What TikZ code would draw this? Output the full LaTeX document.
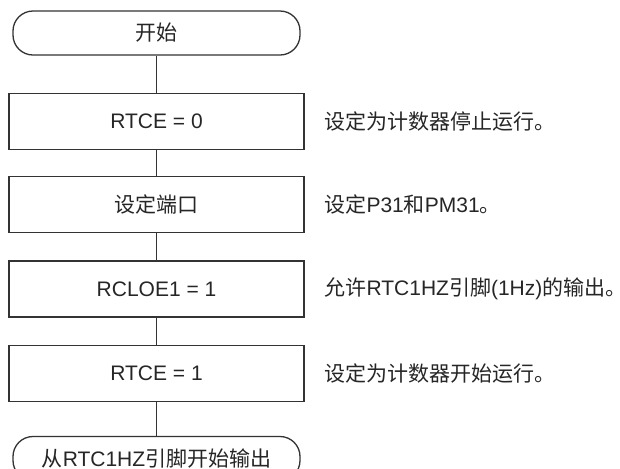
\documentclass[tikz,border=0pt]{standalone}
\usepackage{fontspec}
\setmainfont{Liberation Sans}
\newfontfamily\cjk{Noto Sans CJK SC}
\usetikzlibrary{positioning}
\definecolor{LineGray}{HTML}{333333}
\definecolor{TextGray}{HTML}{262626}
\newcommand{\zh}[1]{{\cjk #1}}
\tikzset{
  TM/.style={rectangle,rounded corners=10pt,
             minimum width=143.5pt,minimum height=22pt,
             draw=LineGray,line width=0.65pt,text=TextGray,
             font=\fontsize{10.5}{12}\selectfont},
  PB/.style={rectangle,
             minimum width=147.5pt,minimum height=28pt,
             draw=LineGray,line width=0.65pt,text=TextGray,
             font=\fontsize{10.5}{12}\selectfont},
  NT/.style={inner sep=0pt,text=TextGray,
             font=\fontsize{10.5}{12}\selectfont},
  ln/.style={draw=LineGray,line width=0.65pt}
}

\begin{document}
\begin{tikzpicture}
  \useasboundingbox (0,0) rectangle (310pt,-234pt);
  \node[TM] (start) at (78.25pt,-16.5pt) {\zh{开始}};
  \node[PB,below=18.5pt of start] (rtce0) {RTCE = 0};
  \node[PB,below=13pt of rtce0] (port) {\zh{设定端口}};
  \node[PB,below=13.5pt of port] (rcloe) {RCLOE1 = 1};
  \node[PB,below=13.5pt of rcloe] (rtce1) {RTCE = 1};
  \node[TM,below=17pt of rtce1] (out) {\zh{从}RTC1HZ\zh{引脚开始输出}};

  \node[NT,right=9.75pt of rtce0] (n1) {\zh{设定为计数器停止运行。}};
  \node[NT,right=9.75pt of port] (n2) {\zh{设定}P31\zh{和}PM31\zh{。}};
  \node[NT,right=9.75pt of rcloe] (n3) {\zh{允许}RTC1HZ\zh{引脚}(1Hz)\zh{的输出。}};
  \node[NT,right=9.75pt of rtce1] (n4) {\zh{设定为计数器开始运行。}};

  \draw[ln](start)--(rtce0);
  \draw[ln](rtce0)--(port);
  \draw[ln](port)--(rcloe);
  \draw[ln](rcloe)--(rtce1);
  \draw[ln](rtce1)--(out);
\end{tikzpicture}
\end{document}
